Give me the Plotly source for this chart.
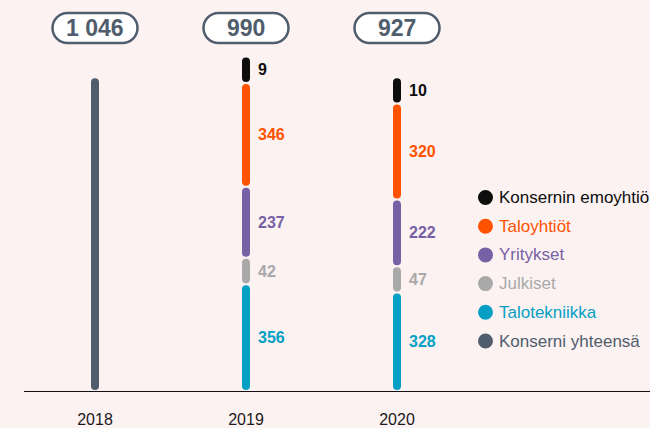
import plotly.graph_objects as go

# ---------------- data ----------------
years = ["2018", "2019", "2020"]
totals = [1046, 990, 927]

# stacked series, bottom to top
talotekniikka = [None, 356, 328]
julkiset = [None, 42, 47]
yritykset = [None, 237, 222]
taloyhtiot = [None, 346, 320]
emoyhtio = [None, 9, 10]
konserni_yhteensa = [1046, None, None]

stack_names = ["Talotekniikka", "Julkiset", "Yritykset", "Taloyhtiöt", "Konsernin emoyhtiö"]
stack_values = [talotekniikka, julkiset, yritykset, taloyhtiot, emoyhtio]
legend_names = ["Konsernin emoyhtiö", "Taloyhtiöt", "Yritykset", "Julkiset", "Talotekniikka", "Konserni yhteensä"]

# ---------------- styles ----------------
COLORS = {
    "Konsernin emoyhtiö": "#0d0d0d",
    "Taloyhtiöt": "#ff5200",
    "Yritykset": "#7761a4",
    "Julkiset": "#a9a9a9",
    "Talotekniikka": "#05a0c4",
    "Konserni yhteensä": "#4f5d6c",
}
BG = "#fcf2f2"
SLATE = "#4f5d6c"
FONT = "Liberation Sans Narrow, Arial Narrow, Liberation Sans, Arial, sans-serif"

W, H = 650, 428
ML, MR, MT, MB = 24, 0, 40, 37
PX_PER_UNIT = 0.30
plot_h = H - MT - MB
plot_w = W - ML - MR
CAT_PX0, CAT_STEP = 95, 151
Y_MAX = plot_h / PX_PER_UNIT
X_MIN = -(CAT_PX0 - ML) / CAT_STEP
X_MAX = (W - MR - CAT_PX0) / CAT_STEP

LINE_W = 8
INSET = (LINE_W / 2 + 1) / PX_PER_UNIT   # caps drawn inside each segment
MIN_SPAN = 88                              # minimum drawn length for tiny segments

fig = go.Figure()


def add_segments(name, spans):
    xs, ys = [], []
    for i, (lo, hi) in spans:
        xs += [i, i, None]
        ys += [lo + INSET, hi - INSET, None]
    fig.add_trace(go.Scatter(
        x=xs, y=ys, mode="lines+markers", name=name, showlegend=False,
        line=dict(color=COLORS[name], width=LINE_W),
        marker=dict(color=COLORS[name], size=LINE_W, line=dict(width=0)),
        hoverinfo="skip",
    ))


annotations = []
shapes = []

# total-only bar
add_segments("Konserni yhteensä",
             [(i, (0, v)) for i, v in enumerate(konserni_yhteensa) if v is not None])

# stacked bars
cum = [0.0] * len(years)
for name, vals in zip(stack_names, stack_values):
    spans = []
    for i, v in enumerate(vals):
        if v is None:
            continue
        span = max(v, MIN_SPAN)
        lo, hi = cum[i], cum[i] + span
        spans.append((i, (lo, hi)))
        cum[i] = hi
        annotations.append(dict(
            x=i, y=(lo + hi) / 2, xref="x", yref="y", text=f"<b>{v}</b>",
            showarrow=False, xanchor="left", yanchor="middle", xshift=10,
            font=dict(family=FONT, size=16, color=COLORS[name]),
        ))
    add_segments(name, spans)

# pills with totals
PILL_Y = (plot_h + MT - 28) / plot_h  # paper y of pill centre (28 px from top)
hw, hh = 42.5, 15
k = 0.5523 * hh
sx = hw - hh
pill_path = (f"M {-sx},{hh} L {sx},{hh} C {sx + k},{hh} {hw},{k} {hw},0 "
             f"C {hw},{-k} {sx + k},{-hh} {sx},{-hh} L {-sx},{-hh} "
             f"C {-sx - k},{-hh} {-hw},{-k} {-hw},0 C {-hw},{k} {-sx - k},{hh} {-sx},{hh} Z")
for i, t in enumerate(totals):
    shapes.append(dict(
        type="path", xref="x", yref="paper", xsizemode="pixel", ysizemode="pixel",
        xanchor=i, yanchor=PILL_Y, path=pill_path,
        fillcolor="#ffffff", line=dict(color=SLATE, width=2.5), layer="above",
    ))
    annotations.append(dict(
        x=i, y=PILL_Y, xref="x", yref="paper", text=f"<b>{t:,}</b>".replace(",", " "),
        showarrow=False, xanchor="center", yanchor="middle",
        font=dict(family=FONT, size=23, color=SLATE),
    ))

# manual legend
LEG_X_PX, LEG_TXT_PX, LEG_Y0, LEG_STEP = 485.5, 497, 197.5, 28.7
for j, name in enumerate(legend_names):
    py = LEG_Y0 + j * LEG_STEP
    yp = (H - MB - py) / plot_h
    shapes.append(dict(
        type="circle", xref="paper", yref="paper", xsizemode="pixel", ysizemode="pixel",
        xanchor=(LEG_X_PX - ML) / plot_w, yanchor=yp, x0=-7.5, x1=7.5, y0=-7.5, y1=7.5,
        fillcolor=COLORS[name], line=dict(width=0),
    ))
    annotations.append(dict(
        x=(LEG_TXT_PX - ML) / plot_w, y=yp, xref="paper", yref="paper", text=name,
        showarrow=False, xanchor="left", yanchor="middle",
        font=dict(family=FONT, size=17, color=COLORS[name]),
    ))

fig.update_layout(
    width=W, height=H, margin=dict(l=ML, r=MR, t=MT, b=MB),
    paper_bgcolor=BG, plot_bgcolor=BG, showlegend=False,
    annotations=annotations, shapes=shapes,
    xaxis=dict(range=[X_MIN, X_MAX], tickvals=list(range(len(years))), ticktext=years,
               showgrid=False, zeroline=False, showline=True, linecolor="#111111", linewidth=1.3,
               ticks="outside", ticklen=14, tickcolor="rgba(0,0,0,0)",
               tickfont=dict(family=FONT, size=16, color="#1a1a1a"), fixedrange=True),
    yaxis=dict(range=[0, Y_MAX], visible=False, showgrid=False, zeroline=False, fixedrange=True),
)

fig.write_html(
    "out.html",
    config={"displayModeBar": False},
    post_script="document.body.style.margin='0';document.body.style.background='%s';" % BG,
)
